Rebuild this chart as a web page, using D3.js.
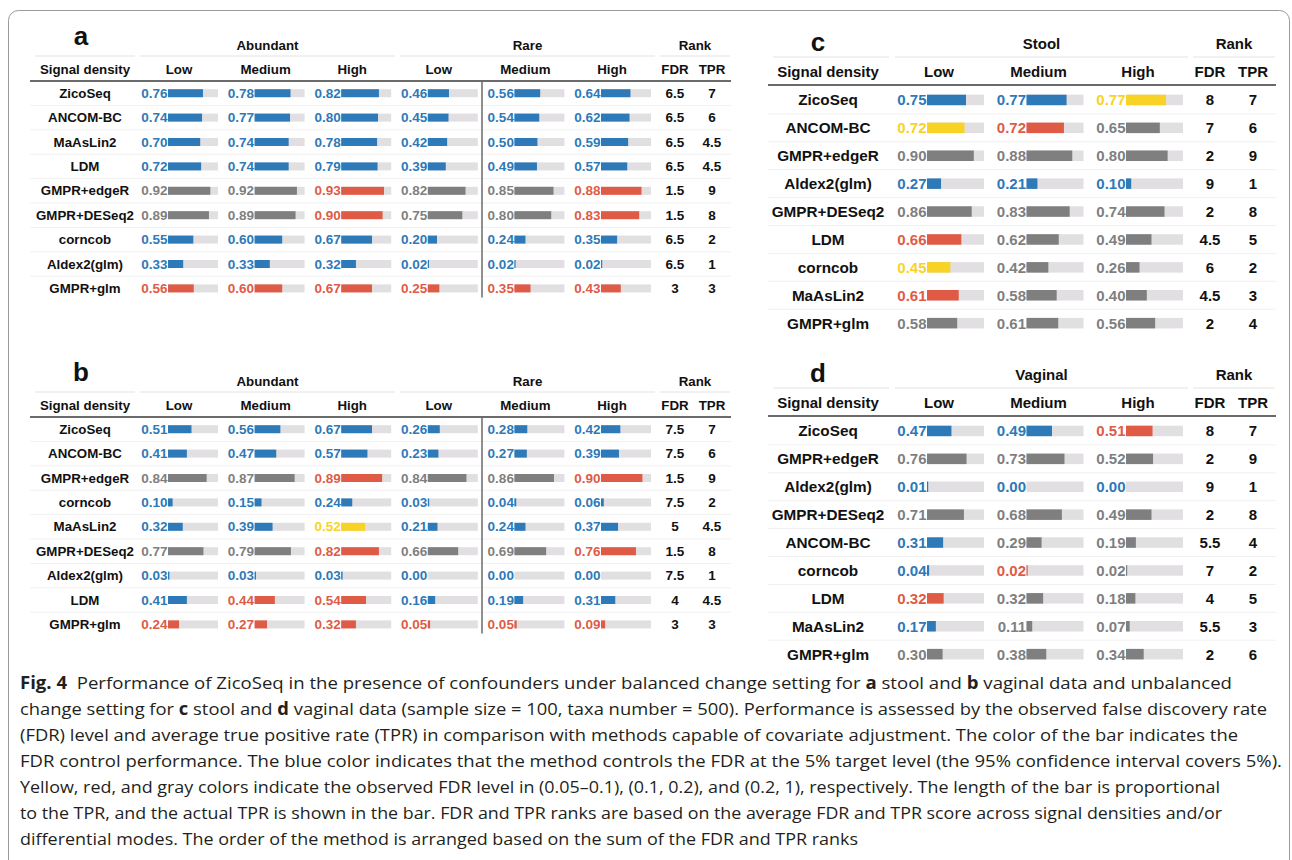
<!DOCTYPE html>
<html>
<head>
<meta charset="utf-8">
<script src="https://cdn.jsdelivr.net/npm/d3@7"></script>
<style>
  body { margin: 0; background: #fff; }
  svg { display: block; }
</style>
</head>
<body>
<div id="fig"></div>
<script>
// ---- data ----
const densities = ["Low", "Medium", "High"];

// panel a: stool, balanced change (abundant Low/Med/High, rare Low/Med/High)
const methodsA = ["ZicoSeq", "ANCOM-BC", "MaAsLin2", "LDM", "GMPR+edgeR", "GMPR+DESeq2", "corncob", "Aldex2(glm)", "GMPR+glm"];
const tprA = [
  [0.76, 0.78, 0.82, 0.46, 0.56, 0.64],
  [0.74, 0.77, 0.80, 0.45, 0.54, 0.62],
  [0.70, 0.74, 0.78, 0.42, 0.50, 0.59],
  [0.72, 0.74, 0.79, 0.39, 0.49, 0.57],
  [0.92, 0.92, 0.93, 0.82, 0.85, 0.88],
  [0.89, 0.89, 0.90, 0.75, 0.80, 0.83],
  [0.55, 0.60, 0.67, 0.20, 0.24, 0.35],
  [0.33, 0.33, 0.32, 0.02, 0.02, 0.02],
  [0.56, 0.60, 0.67, 0.25, 0.35, 0.43]
];
// FDR class: b = controlled, y = (0.05-0.1), r = (0.1-0.2), g = (0.2-1)
const fdrA = [
  "bbbbbb", "bbbbbb", "bbbbbb", "bbbbbb", "ggrggr", "ggrggr", "bbbbbb", "bbbbbb", "rrrrrr"
];
const rankFdrA = ["6.5", "6.5", "6.5", "6.5", "1.5", "1.5", "6.5", "6.5", "3"];
const rankTprA = ["7", "6", "4.5", "4.5", "9", "8", "2", "1", "3"];

// panel b: vaginal, balanced change
const methodsB = ["ZicoSeq", "ANCOM-BC", "GMPR+edgeR", "corncob", "MaAsLin2", "GMPR+DESeq2", "Aldex2(glm)", "LDM", "GMPR+glm"];
const tprB = [
  [0.51, 0.56, 0.67, 0.26, 0.28, 0.42],
  [0.41, 0.47, 0.57, 0.23, 0.27, 0.39],
  [0.84, 0.87, 0.89, 0.84, 0.86, 0.90],
  [0.10, 0.15, 0.24, 0.03, 0.04, 0.06],
  [0.32, 0.39, 0.52, 0.21, 0.24, 0.37],
  [0.77, 0.79, 0.82, 0.66, 0.69, 0.76],
  [0.03, 0.03, 0.03, 0.00, 0.00, 0.00],
  [0.41, 0.44, 0.54, 0.16, 0.19, 0.31],
  [0.24, 0.27, 0.32, 0.05, 0.05, 0.09]
];
const fdrB = [
  "bbbbbb", "bbbbbb", "ggrggr", "bbbbbb", "bbybbb", "ggrggr", "bbbbbb", "brrbbb", "rrrrrr"
];
const rankFdrB = ["7.5", "7.5", "1.5", "7.5", "5", "1.5", "7.5", "4", "3"];
const rankTprB = ["7", "6", "9", "2", "4.5", "8", "1", "4.5", "3"];

// panel c: stool, unbalanced change
const methodsC = ["ZicoSeq", "ANCOM-BC", "GMPR+edgeR", "Aldex2(glm)", "GMPR+DESeq2", "LDM", "corncob", "MaAsLin2", "GMPR+glm"];
const tprC = [
  [0.75, 0.77, 0.77],
  [0.72, 0.72, 0.65],
  [0.90, 0.88, 0.80],
  [0.27, 0.21, 0.10],
  [0.86, 0.83, 0.74],
  [0.66, 0.62, 0.49],
  [0.45, 0.42, 0.26],
  [0.61, 0.58, 0.40],
  [0.58, 0.61, 0.56]
];
const fdrC = ["bby", "yrg", "ggg", "bbb", "ggg", "rgg", "ygg", "rgg", "ggg"];
const rankFdrC = ["8", "7", "2", "9", "2", "4.5", "6", "4.5", "2"];
const rankTprC = ["7", "6", "9", "1", "8", "5", "2", "3", "4"];

// panel d: vaginal, unbalanced change
const methodsD = ["ZicoSeq", "GMPR+edgeR", "Aldex2(glm)", "GMPR+DESeq2", "ANCOM-BC", "corncob", "LDM", "MaAsLin2", "GMPR+glm"];
const tprD = [
  [0.47, 0.49, 0.51],
  [0.76, 0.73, 0.52],
  [0.01, 0.00, 0.00],
  [0.71, 0.68, 0.49],
  [0.31, 0.29, 0.19],
  [0.04, 0.02, 0.02],
  [0.32, 0.32, 0.18],
  [0.17, 0.11, 0.07],
  [0.30, 0.38, 0.34]
];
const fdrD = ["bbr", "ggg", "bbb", "ggg", "bgg", "brg", "rgg", "bgg", "ggg"];
const rankFdrD = ["8", "2", "9", "2", "5.5", "7", "4", "5.5", "2"];
const rankTprD = ["7", "9", "1", "8", "4", "2", "5", "3", "6"];

// ---- drawing ----
const W = 1292, H = 860;
const FONT = "'Liberation Sans', Arial, Helvetica, sans-serif";
const colors = { b: "#2e79b8", g: "#7f7f7f", r: "#e05b45", y: "#f8d325" };
const TRACK = "#e1dfe1";

const svg = d3.select("#fig").append("svg")
  .attr("width", W).attr("height", H);

svg.append("rect")
  .attr("x", 8.5).attr("y", 10.5)
  .attr("width", 1281).attr("height", 900)
  .attr("rx", 10)
  .attr("fill", "#fff").attr("stroke", "#9a9a9a");

function drawPanel(p) {
  const g = svg.append("g").attr("font-family", FONT).attr("font-weight", "bold");
  const n = p.methods.length;

  const y = d3.scaleBand()
    .domain(p.methods)
    .range([p.rowTop, p.rowTop + n * p.step]);
  const bw = d3.scaleLinear().domain([0, 1]).range([0, p.barMax]);

  // panel letter
  g.append("text").attr("x", p.letterX).attr("y", p.letterY)
    .attr("text-anchor", "middle").attr("font-size", 26).attr("fill", "#111")
    .text(p.letter);

  // group headers with thin light rules
  p.groups.forEach(gr => {
    if (gr.label) {
      g.append("text").attr("x", (gr.x0 + gr.x1) / 2).attr("y", p.groupY)
        .attr("text-anchor", "middle").attr("dominant-baseline", "central")
        .attr("font-size", p.headSize).attr("fill", "#111").text(gr.label);
    }
    g.append("line").attr("x1", gr.x0).attr("x2", gr.x1)
      .attr("y1", p.ruleY).attr("y2", p.ruleY)
      .attr("stroke", "#ececec").attr("stroke-width", 1.5);
  });

  // column headers
  g.append("text").attr("x", p.nameX).attr("y", p.headY)
    .attr("text-anchor", "middle").attr("dominant-baseline", "central")
    .attr("font-size", p.headSize).attr("fill", "#111").text("Signal density");
  p.cols.forEach((c, i) => {
    g.append("text").attr("x", p.colX[i] + p.headOff).attr("y", p.headY)
      .attr("text-anchor", "middle").attr("dominant-baseline", "central")
      .attr("font-size", p.headSize).attr("fill", "#111").text(c);
  });
  [["FDR", p.fdrX], ["TPR", p.tprX]].forEach(([t, x]) => {
    g.append("text").attr("x", x).attr("y", p.headY)
      .attr("text-anchor", "middle").attr("dominant-baseline", "central")
      .attr("font-size", p.headSize).attr("fill", "#111").text(t);
  });

  // row separators
  p.methods.slice(1).forEach(m => {
    g.append("line").attr("x1", p.x0).attr("x2", p.x1)
      .attr("y1", y(m)).attr("y2", y(m))
      .attr("stroke", "#f1f1f1").attr("stroke-width", 1);
  });
  // dark header rule
  g.append("line").attr("x1", p.x0).attr("x2", p.x1)
    .attr("y1", p.lineY).attr("y2", p.lineY)
    .attr("stroke", "#6a6a6a").attr("stroke-width", 2);

  if (p.vline) {
    g.append("line").attr("x1", p.vline).attr("x2", p.vline)
      .attr("y1", p.lineY).attr("y2", p.rowTop + n * p.step - 3)
      .attr("stroke", "#6a6a6a").attr("stroke-width", 1.5);
  }

  const rows = g.selectAll("g.row").data(p.methods).enter()
    .append("g").attr("class", "row")
    .attr("transform", d => `translate(0,${y(d) + y.bandwidth() / 2})`);

  rows.append("text").attr("x", p.nameX)
    .attr("text-anchor", "middle").attr("dominant-baseline", "central")
    .attr("font-size", p.nameSize).attr("fill", "#111").text(d => d);

  rows.each(function (m, ri) {
    const row = d3.select(this);
    p.tpr[ri].forEach((v, ci) => {
      const col = colors[p.fdr[ri][ci]];
      const x0 = p.colX[ci];
      row.append("rect").attr("x", x0).attr("y", -p.barH / 2)
        .attr("width", p.trackW).attr("height", p.barH).attr("fill", TRACK);
      if (v > 0) {
        row.append("rect").attr("x", x0).attr("y", -p.barH / 2)
          .attr("width", Math.max(1.2, bw(v))).attr("height", p.barH).attr("fill", col);
      }
      row.append("text").attr("x", x0 - 0.5)
        .attr("text-anchor", "end").attr("dominant-baseline", "central")
        .attr("font-size", p.valSize).attr("fill", col).text(v.toFixed(2));
    });
    row.append("text").attr("x", p.fdrX)
      .attr("text-anchor", "middle").attr("dominant-baseline", "central")
      .attr("font-size", p.valSize).attr("fill", "#111").text(p.rankFdr[ri]);
    row.append("text").attr("x", p.tprX)
      .attr("text-anchor", "middle").attr("dominant-baseline", "central")
      .attr("font-size", p.valSize).attr("fill", "#111").text(p.rankTpr[ri]);
  });
}

// balanced layout (a, b)
const colXAB = d3.range(6).map(i => 168 + i * 86.6);
function balanced(letter, dy, methods, tpr, fdr, rf, rt) {
  return {
    letter, methods, tpr, fdr, rankFdr: rf, rankTpr: rt,
    letterX: 81, letterY: 45 + dy,
    groupY: 45 + dy, ruleY: 56 + dy, headY: 69 + dy, lineY: 81 + dy,
    rowTop: 81 + dy, step: 24.4,
    nameX: 85, x0: 30, x1: 731,
    cols: densities.concat(densities), colX: colXAB, headOff: 11,
    trackW: 50, barMax: 46, barH: 8,
    fdrX: 675, tprX: 712, vline: 482,
    groups: [
      { label: "", x0: 35, x1: 135 },
      { label: "Abundant", x0: 140, x1: 395 },
      { label: "Rare", x0: 400, x1: 655 },
      { label: "Rank", x0: 660, x1: 730 }
    ],
    headSize: 13.3, nameSize: 13.3, valSize: 13.5
  };
}
drawPanel(balanced("a", 0, methodsA, tprA, fdrA, rankFdrA, rankTprA));
drawPanel(balanced("b", 336, methodsB, tprB, fdrB, rankFdrB, rankTprB));

// unbalanced layout (c, d)
const colXCD = [927, 1026.5, 1126];
function unbalanced(letter, title, top, methods, tpr, fdr, rf, rt) {
  return {
    letter, methods, tpr, fdr, rankFdr: rf, rankTpr: rt,
    letterX: 818, letterY: top + 8,
    groupY: top, ruleY: top + 14, headY: top + 28, lineY: top + 42,
    rowTop: top + 43, step: 27.9,
    nameX: 828, x0: 768, x1: 1276,
    cols: densities, colX: colXCD, headOff: 12,
    trackW: 57, barMax: 52, barH: 10.5,
    fdrX: 1210, tprX: 1253, vline: null,
    groups: [
      { label: "", x0: 773, x1: 889 },
      { label: title, x0: 895, x1: 1188 },
      { label: "Rank", x0: 1193, x1: 1275 }
    ],
    headSize: 15, nameSize: 15.3, valSize: 15
  };
}
drawPanel(unbalanced("c", "Stool", 43, methodsC, tprC, fdrC, rankFdrC, rankTprC));
drawPanel(unbalanced("d", "Vaginal", 374, methodsD, tprD, fdrD, rankFdrD, rankTprD));

// ---- caption ----
const captionLines = [
  [["Fig. 4", true], ["  Performance of ZicoSeq in the presence of confounders under balanced change setting for ", false], ["a", true], [" stool and ", false], ["b", true], [" vaginal data and unbalanced", false]],
  [["change setting for ", false], ["c", true], [" stool and ", false], ["d", true], [" vaginal data (sample size = 100, taxa number = 500). Performance is assessed by the observed false discovery rate", false]],
  [["(FDR) level and average true positive rate (TPR) in comparison with methods capable of covariate adjustment. The color of the bar indicates the", false]],
  [["FDR control performance. The blue color indicates that the method controls the FDR at the 5% target level (the 95% confidence interval covers 5%).", false]],
  [["Yellow, red, and gray colors indicate the observed FDR level in (0.05\u20130.1), (0.1, 0.2), and (0.2, 1), respectively. The length of the bar is proportional", false]],
  [["to the TPR, and the actual TPR is shown in the bar. FDR and TPR ranks are based on the average FDR and TPR score across signal densities and/or", false]],
  [["differential modes. The order of the method is arranged based on the sum of the FDR and TPR ranks", false]]
];
const captionWidths = [1212, 1247, 1218, 1262, 1200, 1202, 838];

const cap = svg.append("g")
  .attr("font-family", "'Open Sans', 'Noto Sans', sans-serif")
  .attr("font-size", 17).attr("fill", "#231f20");
captionLines.forEach((parts, i) => {
  const t = cap.append("text")
    .attr("x", 20).attr("y", 689 + i * 26)
    .attr("textLength", captionWidths[i])
    .attr("lengthAdjust", "spacingAndGlyphs")
    .attr("xml:space", "preserve");
  parts.forEach(([s, b]) => {
    t.append("tspan").attr("font-weight", b ? "bold" : "normal").text(s);
  });
});
</script>
</body>
</html>
